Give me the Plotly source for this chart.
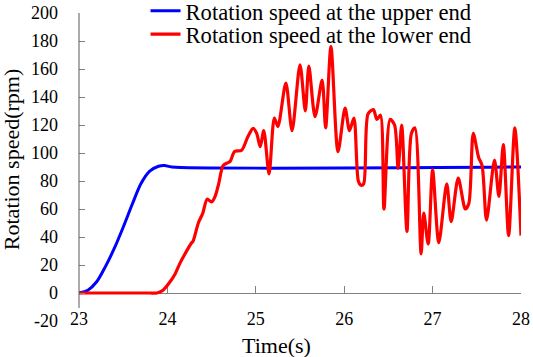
import plotly.graph_objects as go

# ---- data ----
t_upper = [23.0, 23.1, 23.2, 23.3, 23.4, 23.5, 23.6, 23.7, 23.8, 23.9, 23.97, 24.05, 28.0]
v_upper = [0, 2, 8, 19, 32, 47, 63, 78, 87, 90.5, 91, 90, 90]

t_lower = [23.0, 23.5, 23.8, 23.88, 23.95, 24.03, 24.09, 24.14, 24.2, 24.27, 24.29, 24.35, 24.40, 24.45,
           24.50, 24.54, 24.58, 24.63, 24.68, 24.71, 24.76, 24.84, 24.91, 24.97, 25.01,
           25.05, 25.09, 25.15, 25.21, 25.25, 25.34, 25.41, 25.50, 25.56, 25.60, 25.67,
           25.75, 25.79, 25.85, 25.93, 26.01, 26.06, 26.11, 26.16, 26.19, 26.22, 26.27,
           26.33, 26.37, 26.41, 26.45, 26.52, 26.57, 26.61, 26.65, 26.71, 26.76, 26.80,
           26.87, 26.90, 26.95, 27.00, 27.07, 27.16, 27.21, 27.29, 27.37, 27.41, 27.46,
           27.52, 27.56, 27.61, 27.70, 27.75, 27.80, 27.86, 27.93, 28.0]
v_lower = [0, 0, 0, 0, 2, 8, 14, 21, 28, 35.5, 37, 50, 57, 67,
           65, 69, 78, 91, 93, 94, 101, 102, 111.6, 117.6, 114,
           104.5, 116, 85, 125, 119, 150, 116, 163, 130, 162, 126,
           152, 118, 176, 101, 132, 116, 125, 80, 77, 78, 128,
           131, 124, 127, 60, 124, 120, 89, 120, 44, 114, 118,
           28, 57, 35, 88, 36, 78, 51, 82, 60, 64, 114,
           97, 91, 52, 95, 69, 106, 41, 118, 41]

x_ticks = [23, 24, 25, 26, 27, 28]
y_ticks = [-20, 0, 20, 40, 60, 80, 100, 120, 140, 160, 180, 200]
y_tick_labels = ["-20", "0", "20", "40", "60", "80", "100", "120", "140", "160", "180", "200"]

FONT = "Liberation Serif"

fig = go.Figure()
fig.add_trace(go.Scatter(
    x=t_upper, y=v_upper, mode="lines", name="Rotation speed at the upper end",
    line=dict(color="#0000ff", width=3, shape="spline", smoothing=0.8),
    xaxis="x", yaxis="y", legend="legend"))
fig.add_trace(go.Scatter(
    x=t_lower, y=v_lower, mode="lines", name="Rotation speed at the lower end",
    line=dict(color="#ff0000", width=3.2, shape="spline", smoothing=0.8),
    xaxis="x2", yaxis="y", legend="legend2"))

fig.update_layout(
    width=533, height=357,
    margin=dict(l=79, r=12, t=13, b=36, autoexpand=False),
    paper_bgcolor="white", plot_bgcolor="white",
    font=dict(family=FONT, size=18, color="black"),
    xaxis=dict(range=[23, 28], tickvals=x_ticks, ticktext=[str(v) for v in x_ticks],
               showline=False, ticks="", showgrid=False, zeroline=False,
               anchor="free", position=0.05, tickfont=dict(size=18, family=FONT)),
    xaxis2=dict(range=[23, 28], tickvals=x_ticks, overlaying="x", anchor="free",
                position=20 / 220, showline=True, linecolor="#808080", linewidth=1,
                ticks="inside", ticklen=7, tickcolor="#808080", showticklabels=False,
                showgrid=False, zeroline=False, layer="below traces"),
    yaxis=dict(range=[-20, 200], tickvals=y_ticks, ticktext=y_tick_labels,
               showline=False, showgrid=False,
               zeroline=False, ticks="inside", ticklen=6, tickcolor="#808080",
               ticklabelstandoff=20, tickfont=dict(size=18, family=FONT)),
    legend=dict(x=0.1505, y=1.076, xanchor="left", yanchor="top",
                font=dict(size=22.6, family=FONT), bgcolor="rgba(0,0,0,0)",
                borderwidth=0),
    legend2=dict(x=0.1505, y=1.0, xanchor="left", yanchor="top",
                 font=dict(size=22.6, family=FONT), bgcolor="rgba(0,0,0,0)",
                 borderwidth=0),
    showlegend=True,
)

# y-axis line
fig.add_shape(type="line", xref="paper", yref="y", x0=0, x1=0, y0=-10.7, y1=200,
              line=dict(color="#595959", width=1))

fig.add_annotation(text="Rotation speed(rpm)", xref="paper", yref="paper",
                   x=-0.151, y=0.523, xanchor="center", yanchor="middle",
                   textangle=-90, showarrow=False, font=dict(size=22, family=FONT))
fig.add_annotation(text="Time(s)", xref="paper", yref="paper",
                   x=0.4476, y=-0.078, xanchor="center", yanchor="middle",
                   showarrow=False, font=dict(size=22, family=FONT))

fig.write_html("out.html", config={"displayModeBar": False},
               post_script="document.body.style.margin='0';")
